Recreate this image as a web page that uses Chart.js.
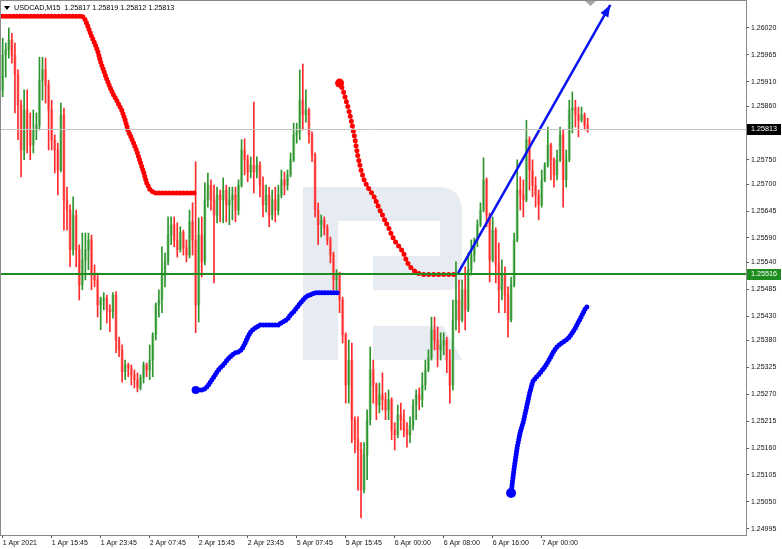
<!DOCTYPE html>
<html>
<head>
<meta charset="utf-8">
<script src="https://cdn.jsdelivr.net/npm/chart.js@4.4.0/dist/chart.umd.min.js"></script>
<style>
  html, body { margin: 0; padding: 0; background: #fff; }
  #wrap { width: 782px; height: 549px; }
</style>
</head>
<body>
<div id="wrap"><canvas id="chart" width="782" height="549"></canvas></div>
<script>
const symbolName = "USDCAD,M15";
const lastBar = ["1.25817", "1.25819", "1.25812", "1.25813"];

const timeLabels = ["1 Apr 2021", "1 Apr 15:45", "1 Apr 23:45", "2 Apr 07:45", "2 Apr 15:45", "2 Apr 23:45",
  "5 Apr 07:45", "5 Apr 15:45", "6 Apr 00:00", "6 Apr 08:00", "6 Apr 16:00", "7 Apr 00:00"];
const timeTickPos = [0, 16, 32, 48, 64, 80, 96, 112, 128, 144, 160, 176];

const priceTicks = [1.26020, 1.25965, 1.25910, 1.25860, 1.25805, 1.25750, 1.25700, 1.25645, 1.25590, 1.25540,
  1.25485, 1.25430, 1.25380, 1.25325, 1.25270, 1.25215, 1.25160, 1.25105, 1.25050, 1.24995];

const bidPrice = 1.25813;
const levelPrice = 1.25516;

// candles (open, high, low, close)
const candles = [
  [1.25893,1.25999,1.25879,1.25964],[1.25964,1.25989,1.25919,1.25975],[1.25975,1.26020,1.25958,1.25995],[1.25995,1.26009,1.25948,1.25964],
  [1.25964,1.25989,1.25846,1.25924],[1.25924,1.25934,1.25791,1.25862],[1.25862,1.25872,1.25715,1.25770],[1.25770,1.25893,1.25750,1.25852],
  [1.25852,1.25893,1.25764,1.25811],[1.25811,1.25846,1.25750,1.25780],[1.25780,1.25852,1.25764,1.25811],[1.25811,1.25846,1.25791,1.25821],
  [1.25821,1.25960,1.25811,1.25913],[1.25913,1.25960,1.25872,1.25934],[1.25934,1.25958,1.25866,1.25903],[1.25903,1.25913,1.25770,1.25852],
  [1.25852,1.25872,1.25770,1.25791],[1.25791,1.25801,1.25723,1.25770],[1.25770,1.25784,1.25678,1.25729],[1.25729,1.25866,1.25725,1.25842],
  [1.25842,1.25856,1.25606,1.25668],[1.25668,1.25694,1.25606,1.25647],[1.25647,1.25658,1.25531,1.25566],[1.25566,1.25674,1.25555,1.25637],
  [1.25637,1.25647,1.25531,1.25566],[1.25566,1.25576,1.25463,1.25494],[1.25494,1.25600,1.25484,1.25545],[1.25545,1.25600,1.25504,1.25566],
  [1.25566,1.25600,1.25525,1.25586],[1.25586,1.25596,1.25484,1.25514],[1.25514,1.25535,1.25490,1.25504],[1.25504,1.25518,1.25428,1.25453],
  [1.25453,1.25469,1.25402,1.25463],[1.25463,1.25478,1.25443,1.25467],[1.25467,1.25473,1.25416,1.25443],[1.25443,1.25453,1.25398,1.25439],
  [1.25439,1.25478,1.25426,1.25473],[1.25473,1.25480,1.25355,1.25381],[1.25381,1.25387,1.25347,1.25361],[1.25361,1.25371,1.25295,1.25316],
  [1.25316,1.25340,1.25300,1.25330],[1.25330,1.25334,1.25306,1.25324],[1.25324,1.25330,1.25289,1.25310],[1.25310,1.25320,1.25283,1.25300],
  [1.25300,1.25314,1.25275,1.25283],[1.25283,1.25310,1.25279,1.25304],[1.25304,1.25336,1.25293,1.25330],[1.25330,1.25334,1.25306,1.25320],
  [1.25320,1.25371,1.25300,1.25340],[1.25340,1.25396,1.25306,1.25392],[1.25392,1.25457,1.25381,1.25453],[1.25453,1.25484,1.25428,1.25463],
  [1.25463,1.25572,1.25437,1.25514],[1.25514,1.25559,1.25490,1.25541],[1.25541,1.25633,1.25535,1.25596],[1.25596,1.25633,1.25576,1.25617],
  [1.25617,1.25633,1.25572,1.25586],[1.25586,1.25621,1.25551,1.25566],[1.25566,1.25613,1.25561,1.25602],[1.25602,1.25606,1.25555,1.25570],
  [1.25570,1.25586,1.25541,1.25555],[1.25555,1.25647,1.25549,1.25623],[1.25623,1.25662,1.25555,1.25586],[1.25586,1.25746,1.25396,1.25453],
  [1.25453,1.25631,1.25418,1.25596],[1.25596,1.25633,1.25510,1.25541],[1.25541,1.25703,1.25535,1.25668],[1.25668,1.25723,1.25653,1.25698],
  [1.25698,1.25709,1.25647,1.25668],[1.25668,1.25698,1.25498,1.25637],[1.25637,1.25694,1.25621,1.25678],[1.25678,1.25688,1.25623,1.25668],
  [1.25668,1.25713,1.25621,1.25688],[1.25688,1.25698,1.25623,1.25658],[1.25658,1.25694,1.25617,1.25668],[1.25668,1.25694,1.25627,1.25678],
  [1.25678,1.25694,1.25623,1.25647],[1.25647,1.25709,1.25637,1.25698],[1.25698,1.25791,1.25694,1.25770],[1.25770,1.25793,1.25719,1.25750],
  [1.25750,1.25760,1.25705,1.25725],[1.25725,1.25756,1.25713,1.25739],[1.25739,1.25868,1.25682,1.25725],[1.25725,1.25756,1.25713,1.25739],
  [1.25739,1.25746,1.25674,1.25698],[1.25698,1.25715,1.25633,1.25658],[1.25658,1.25698,1.25643,1.25678],[1.25678,1.25694,1.25613,1.25637],
  [1.25637,1.25688,1.25627,1.25668],[1.25668,1.25694,1.25623,1.25647],[1.25647,1.25698,1.25637,1.25678],[1.25678,1.25729,1.25672,1.25709],
  [1.25709,1.25725,1.25678,1.25698],[1.25698,1.25729,1.25688,1.25719],[1.25719,1.25764,1.25715,1.25750],[1.25750,1.25825,1.25746,1.25801],
  [1.25801,1.25825,1.25784,1.25807],[1.25807,1.25934,1.25791,1.25872],[1.25872,1.25946,1.25811,1.25842],[1.25842,1.25893,1.25827,1.25852],
  [1.25852,1.25856,1.25784,1.25801],[1.25801,1.25807,1.25746,1.25760],[1.25760,1.25764,1.25633,1.25647],[1.25647,1.25662,1.25576,1.25617],
  [1.25617,1.25637,1.25592,1.25627],[1.25627,1.25633,1.25596,1.25611],[1.25611,1.25617,1.25576,1.25586],[1.25586,1.25592,1.25539,1.25555],
  [1.25555,1.25561,1.25484,1.25504],[1.25504,1.25525,1.25484,1.25514],[1.25514,1.25520,1.25437,1.25463],[1.25463,1.25469,1.25375,1.25392],
  [1.25392,1.25396,1.25252,1.25289],[1.25289,1.25381,1.25252,1.25340],[1.25340,1.25375,1.25171,1.25218],[1.25218,1.25224,1.25150,1.25177],
  [1.25177,1.25224,1.25074,1.25156],[1.25156,1.25171,1.25017,1.25074],[1.25074,1.25171,1.25068,1.25146],[1.25146,1.25238,1.25095,1.25218],
  [1.25218,1.25367,1.25207,1.25320],[1.25320,1.25340,1.25252,1.25289],[1.25289,1.25293,1.25218,1.25248],[1.25248,1.25293,1.25232,1.25269],
  [1.25269,1.25314,1.25238,1.25259],[1.25259,1.25273,1.25218,1.25238],[1.25238,1.25279,1.25218,1.25259],[1.25259,1.25263,1.25177,1.25197],
  [1.25197,1.25212,1.25156,1.25187],[1.25187,1.25248,1.25181,1.25228],[1.25228,1.25252,1.25197,1.25218],[1.25218,1.25238,1.25183,1.25197],
  [1.25197,1.25212,1.25162,1.25187],[1.25187,1.25224,1.25171,1.25207],[1.25207,1.25259,1.25197,1.25248],[1.25248,1.25279,1.25218,1.25269],
  [1.25269,1.25283,1.25238,1.25259],[1.25259,1.25314,1.25244,1.25289],[1.25289,1.25340,1.25279,1.25320],[1.25320,1.25361,1.25316,1.25345],
  [1.25345,1.25428,1.25340,1.25402],[1.25402,1.25428,1.25361,1.25381],[1.25381,1.25408,1.25326,1.25361],[1.25361,1.25396,1.25340,1.25371],
  [1.25371,1.25396,1.25351,1.25381],[1.25381,1.25387,1.25314,1.25340],[1.25340,1.25361,1.25252,1.25289],[1.25289,1.25463,1.25279,1.25422],
  [1.25422,1.25541,1.25402,1.25463],[1.25463,1.25504,1.25396,1.25422],[1.25422,1.25504,1.25418,1.25484],[1.25484,1.25531,1.25402,1.25443],
  [1.25443,1.25559,1.25439,1.25525],[1.25525,1.25586,1.25514,1.25555],[1.25555,1.25590,1.25541,1.25586],[1.25586,1.25627,1.25572,1.25617],
  [1.25617,1.25662,1.25613,1.25647],[1.25647,1.25754,1.25643,1.25709],[1.25709,1.25713,1.25613,1.25637],[1.25637,1.25641,1.25500,1.25545],
  [1.25545,1.25633,1.25541,1.25606],[1.25606,1.25611,1.25498,1.25535],[1.25535,1.25580,1.25437,1.25484],[1.25484,1.25545,1.25463,1.25514],
  [1.25514,1.25531,1.25437,1.25473],[1.25473,1.25490,1.25387,1.25422],[1.25422,1.25510,1.25418,1.25494],[1.25494,1.25600,1.25490,1.25586],
  [1.25586,1.25750,1.25582,1.25688],[1.25688,1.25715,1.25647,1.25678],[1.25678,1.25709,1.25633,1.25668],[1.25668,1.25831,1.25664,1.25791],
  [1.25791,1.25797,1.25688,1.25729],[1.25729,1.25750,1.25674,1.25698],[1.25698,1.25715,1.25653,1.25678],[1.25678,1.25688,1.25627,1.25658],
  [1.25658,1.25729,1.25653,1.25709],[1.25709,1.25744,1.25705,1.25739],[1.25739,1.25817,1.25735,1.25780],[1.25780,1.25784,1.25709,1.25750],
  [1.25750,1.25754,1.25694,1.25719],[1.25719,1.25770,1.25709,1.25750],[1.25750,1.25817,1.25746,1.25801],[1.25801,1.25811,1.25653,1.25709],
  [1.25709,1.25770,1.25694,1.25750],[1.25750,1.25872,1.25746,1.25852],[1.25852,1.25889,1.25805,1.25856],[1.25856,1.25872,1.25817,1.25842],
  [1.25842,1.25858,1.25797,1.25831],[1.25831,1.25858,1.25827,1.25842],[1.25842,1.25846,1.25811,1.25821],[1.25821,1.25835,1.25806,1.25813]
];

// red trailing stop, two runs
const redStart1 = 0;
const redLine1 = [1.26044,1.26044,1.26044,1.26044,1.26044,1.26044,1.26044,1.26044,1.26044,1.26044,1.26044,1.26044,1.26044,1.26044,
  1.26044,1.26044,1.26044,1.26044,1.26044,1.26044,1.26044,1.26044,1.26044,1.26044,1.26044,1.26044,1.26044,
  1.26036,1.26020,1.26003,1.25989,1.25973,1.25950,1.25932,1.25915,1.25899,1.25885,1.25874,1.25862,1.25850,1.25831,
  1.25809,1.25795,1.25780,1.25764,1.25744,1.25725,1.25703,1.25690,1.25684,
  1.25682,1.25682,1.25682,1.25682,1.25682,1.25682,1.25682,1.25682,1.25682,1.25682,1.25682,1.25682,1.25682,1.25682];
const redStart2 = 110;
const redLine2 = [1.25907,1.25895,1.25874,1.25852,1.25825,1.25793,1.25756,1.25729,1.25709,1.25696,1.25686,1.25678,
  1.25664,1.25649,1.25637,1.25623,1.25611,1.25596,1.25584,1.25576,1.25568,1.25557,1.25541,1.25531,1.25525,1.25520,1.25517,
  1.25515,1.25515,1.25515,1.25515,1.25515,1.25515,1.25515,1.25515,1.25515,1.25515,1.25515,1.25515];

// blue trailing stop, two runs
const blueStart1 = 63;
const blueLine1 = [1.25279,1.25279,1.25279,1.25281,1.25287,1.25297,1.25306,1.25316,1.25324,1.25330,1.25338,1.25345,1.25351,
  1.25355,1.25357,1.25361,1.25373,1.25387,1.25398,1.25404,1.25408,1.25412,1.25412,1.25412,1.25412,1.25412,1.25412,1.25412,
  1.25416,1.25420,1.25424,1.25433,1.25439,1.25447,1.25455,1.25463,1.25469,1.25473,1.25475,
  1.25478,1.25478,1.25478,1.25478,1.25478,1.25478,1.25478,1.25478,1.25478];
const blueStart2 = 166;
const blueLine2 = [1.25068,1.25119,1.25162,1.25193,1.25214,1.25242,1.25271,1.25295,1.25304,1.25310,1.25318,1.25326,1.25336,
  1.25347,1.25359,1.25367,1.25373,1.25377,1.25381,1.25387,1.25396,1.25406,1.25418,1.25430,1.25443,1.25451];

// trend arrow
const arrowPos = [148.7, 198.4];
const arrowPrice = [1.25518, 1.26067];

const xMin = -0.55, xMax = 242.7;
const yMin = 1.24982, yMax = 1.26075;
const FONT = "'Liberation Sans', Arial, sans-serif";

const isUp = (i) => candles[i][3] >= candles[i][0];
const segment = (start, values) => values.map((v, i) => ({ x: start + i, y: v }));

const dotLine = (data, color, firstRadius, gap) => ({
  type: "line",
  data: data,
  borderColor: color,
  backgroundColor: color,
  borderWidth: 5,
  borderCapStyle: "round",
  borderJoinStyle: "round",
  borderDash: [0, gap],
  tension: 0,
  pointRadius: (c) => (c.dataIndex === 0 ? firstRadius : 0),
  pointBorderWidth: 0,
  order: 0,
});

const decor = {
  id: "decor",
  beforeDatasetsDraw(chart) {
    const { ctx, chartArea: a } = chart;
    ctx.save();
    ctx.beginPath();
    ctx.rect(a.left, a.top, a.right - a.left, a.bottom - a.top);
    ctx.clip();
    // faint logo watermark
    ctx.fillStyle = "#e7ebf2";
    ctx.beginPath();
    ctx.moveTo(303, 187);
    ctx.lineTo(438, 187);
    ctx.quadraticCurveTo(462, 187, 462, 212);
    ctx.lineTo(462, 276);
    ctx.quadraticCurveTo(462, 290, 446, 290);
    ctx.lineTo(373, 290);
    ctx.lineTo(373, 256);
    ctx.lineTo(440, 256);
    ctx.lineTo(440, 221);
    ctx.lineTo(338, 221);
    ctx.lineTo(338, 360);
    ctx.lineTo(303, 360);
    ctx.closePath();
    ctx.fill();
    ctx.beginPath();
    ctx.moveTo(373, 326);
    ctx.lineTo(443, 326);
    ctx.lineTo(462, 360);
    ctx.lineTo(373, 360);
    ctx.closePath();
    ctx.fill();
    ctx.restore();
  },
  afterDatasetsDraw(chart) {
    const { ctx, chartArea: a, scales: { y } } = chart;
    ctx.save();
    const yb = Math.round(y.getPixelForValue(bidPrice)) + 0.5;
    ctx.strokeStyle = "#c4c4c4";
    ctx.lineWidth = 1;
    ctx.beginPath(); ctx.moveTo(a.left, yb); ctx.lineTo(a.right, yb); ctx.stroke();
    const yl = Math.round(y.getPixelForValue(levelPrice));
    ctx.strokeStyle = "#1f8c1f";
    ctx.lineWidth = 2;
    ctx.beginPath(); ctx.moveTo(a.left, yl); ctx.lineTo(a.right, yl); ctx.stroke();
    // arrow head on the trend line
    const meta = chart.getDatasetMeta(chart.data.datasets.length - 1);
    const p0 = meta.data[0], p1 = meta.data[1];
    const ang = Math.atan2(p1.y - p0.y, p1.x - p0.x);
    const len = 12, half = 4.5;
    ctx.fillStyle = "#0a14f0";
    ctx.beginPath();
    ctx.moveTo(p1.x, p1.y);
    ctx.lineTo(p1.x - len * Math.cos(ang) + half * Math.sin(ang), p1.y - len * Math.sin(ang) - half * Math.cos(ang));
    ctx.lineTo(p1.x - len * Math.cos(ang) - half * Math.sin(ang), p1.y - len * Math.sin(ang) + half * Math.cos(ang));
    ctx.closePath();
    ctx.fill();
    ctx.restore();
  },
  afterDraw(chart) {
    const { ctx, chartArea: a, scales: { y } } = chart;
    ctx.save();
    // frame
    ctx.strokeStyle = "#8a8a8a";
    ctx.lineWidth = 1;
    ctx.strokeRect(0.5, 0.5, a.right, a.bottom);
    // chart shift marker
    ctx.fillStyle = "#a8a8a8";
    ctx.beginPath(); ctx.moveTo(585, 1); ctx.lineTo(596, 1); ctx.lineTo(590.5, 6); ctx.closePath(); ctx.fill();
    // header
    ctx.fillStyle = "#000";
    ctx.beginPath(); ctx.moveTo(4, 6); ctx.lineTo(10, 6); ctx.lineTo(7, 10); ctx.closePath(); ctx.fill();
    ctx.font = "7.2px " + FONT;
    ctx.textBaseline = "middle";
    ctx.textAlign = "left";
    ctx.fillText(symbolName + "  " + lastBar.join(" "), 14, 8.5);
    // price boxes on the axis
    const box = (price, fill) => {
      const yy = Math.round(y.getPixelForValue(price));
      ctx.fillStyle = fill;
      ctx.fillRect(a.right + 1, yy - 5, 34, 11);
      ctx.fillStyle = "#fff";
      ctx.fillText(price.toFixed(5), a.right + 5, yy + 0.5);
    };
    box(bidPrice, "#000");
    box(levelPrice, "#1f8c1f");
    ctx.restore();
  },
};

const chart = new Chart(document.getElementById("chart"), {
  type: "bar",
  data: {
    datasets: [
      {
        data: candles.map((c, i) => ({ x: i, y: [c[0], c[3]] })),
        backgroundColor: (c) => (isUp(c.dataIndex) ? "rgba(90,180,90,0.5)" : "rgba(255,100,100,0.55)"),
        barThickness: 2.4,
        minBarLength: 1,
        grouped: false,
        order: 2,
      },
      {
        data: candles.map((c, i) => ({ x: i, y: [c[2], c[1]] })),
        backgroundColor: (c) => (isUp(c.dataIndex) ? "#2e952e" : "#ff2b2b"),
        barThickness: 1,
        grouped: false,
        order: 1,
      },
      dotLine(segment(redStart1, redLine1), "#ff0000", 0, 3.5),
      dotLine(segment(redStart2, redLine2), "#ff0000", 4.5, 5),
      dotLine(segment(blueStart1, blueLine1), "#0000ff", 4, 3),
      dotLine(segment(blueStart2, blueLine2), "#0000ff", 5, 3),
      {
        type: "line",
        data: arrowPos.map((x, i) => ({ x: x, y: arrowPrice[i] })),
        borderColor: "#0a14f0",
        borderWidth: 2.5,
        pointRadius: 0,
        order: 0,
      },
    ],
  },
  options: {
    responsive: false,
    animation: false,
    events: [],
    layout: { autoPadding: false, padding: { left: 1, top: 1, right: 0, bottom: 0 } },
    plugins: { legend: { display: false }, tooltip: { enabled: false } },
    scales: {
      x: {
        type: "linear",
        min: xMin,
        max: xMax,
        offset: false,
        afterBuildTicks: (s) => { s.ticks = timeTickPos.map((v) => ({ value: v })); },
        afterFit: (s) => { s.height = 14; s.paddingLeft = 0; s.paddingRight = 0; },
        ticks: {
          callback: (v, i) => timeLabels[i],
          align: "start",
          maxRotation: 0,
          autoSkip: false,
          padding: 1,
          color: "#111",
          font: { family: FONT, size: 7 },
        },
        grid: { drawOnChartArea: false, offset: false, tickLength: 3, color: "#555" },
        border: { display: true, color: "#8a8a8a" },
      },
      y: {
        position: "right",
        min: yMin,
        max: yMax,
        afterBuildTicks: (s) => { s.ticks = priceTicks.map((v) => ({ value: v })); },
        afterFit: (s) => { s.width = 36; s.paddingTop = 0; s.paddingBottom = 0; },
        ticks: {
          callback: (v) => v.toFixed(5),
          autoSkip: false,
          padding: 2,
          color: "#111",
          font: { family: FONT, size: 7 },
        },
        grid: { drawOnChartArea: false, tickLength: 3, color: "#555" },
        border: { display: true, color: "#666" },
      },
    },
  },
  plugins: [decor],
});
</script>
</body>
</html>
